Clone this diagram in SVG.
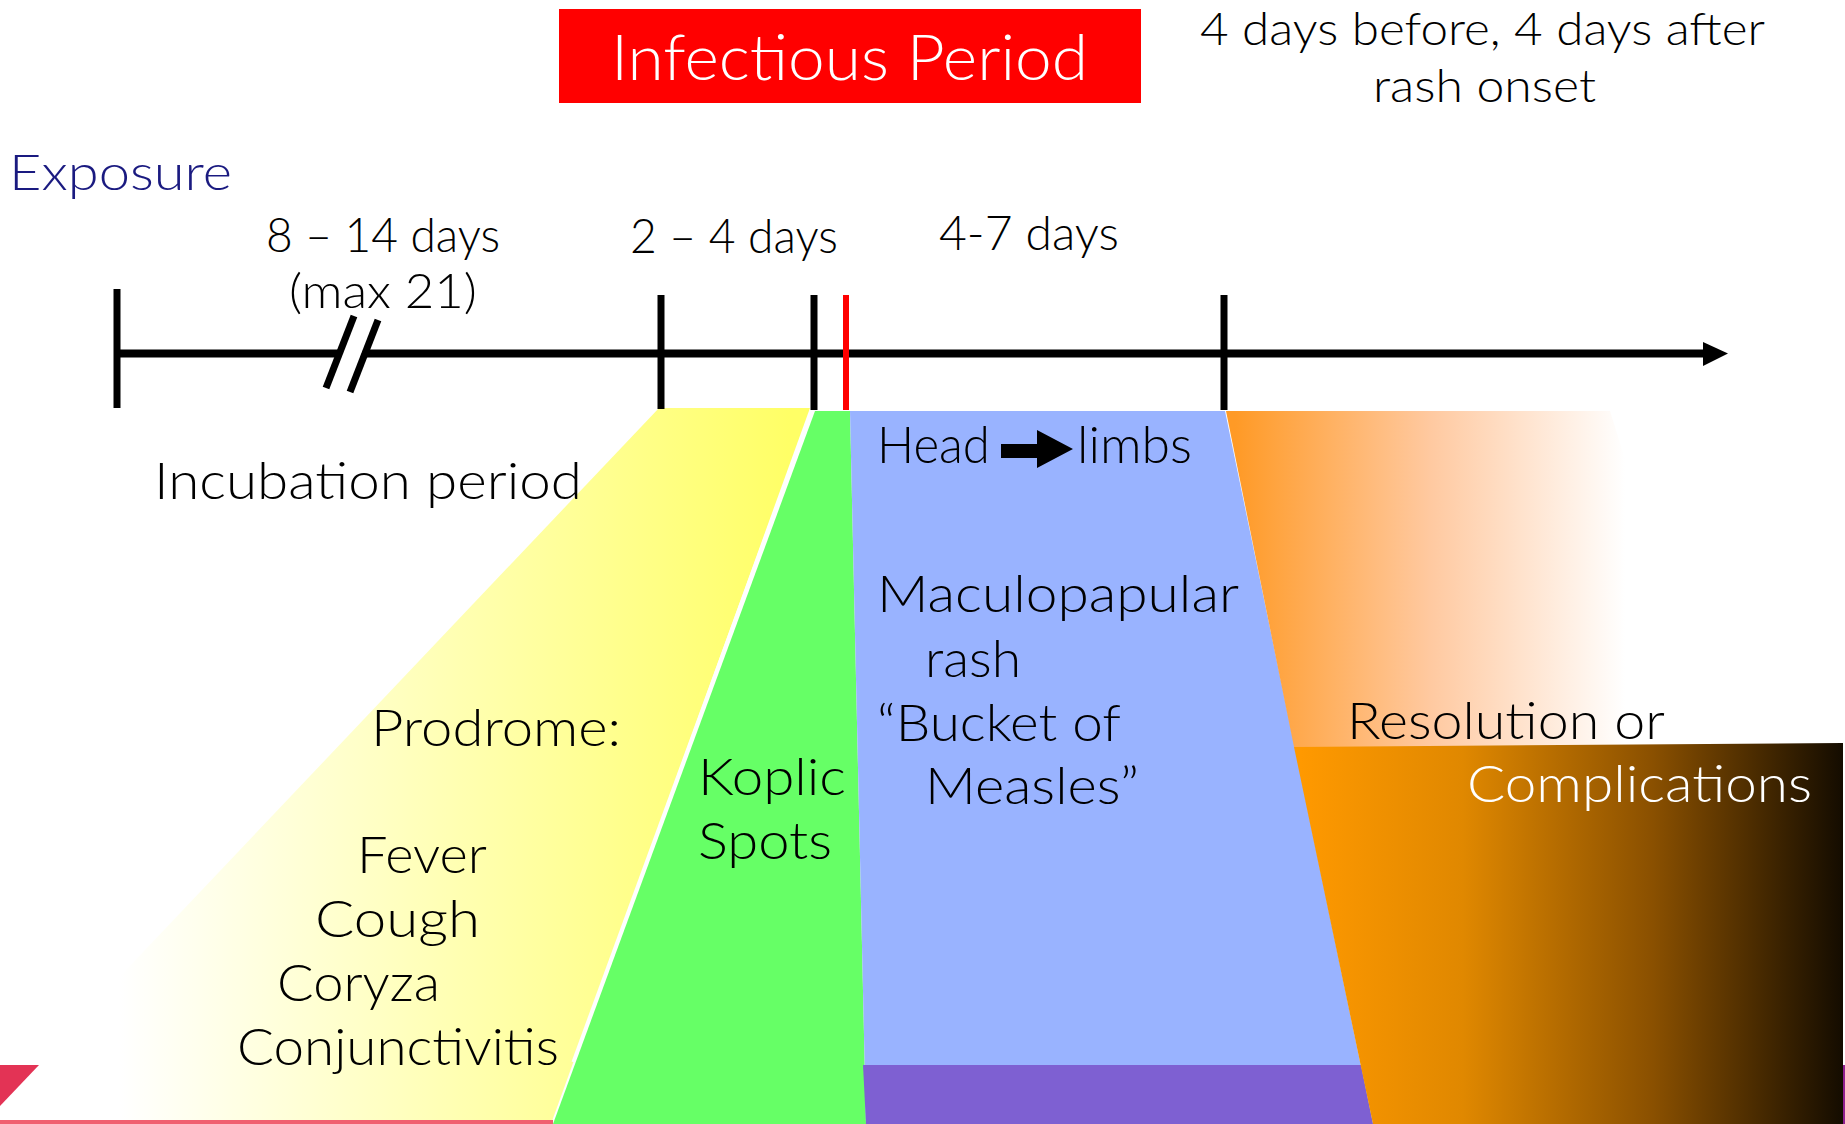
<svg xmlns="http://www.w3.org/2000/svg" width="1845" height="1124" viewBox="0 0 1845 1124">
<style>
text{font-family:Lato,"Open Sans","Liberation Sans",sans-serif;font-weight:300;}
.t{font-size:51px;fill:#000;}
.s{font-size:47px;fill:#000;}
.w{fill:#fff;}
.tick{stroke:#000;stroke-width:7;fill:none;}
</style>
<defs>
<linearGradient id="gY" gradientUnits="userSpaceOnUse" x1="120" y1="0" x2="790" y2="0">
<stop offset="0" stop-color="#ffffff"/>
<stop offset="1" stop-color="#ffff66"/>
</linearGradient>
<linearGradient id="gO1" gradientUnits="userSpaceOnUse" x1="1235" y1="0" x2="1625" y2="0">
<stop offset="0" stop-color="#ff9a26"/>
<stop offset="0.5" stop-color="#ffc9a0"/>
<stop offset="1" stop-color="#ffffff"/>
</linearGradient>
<linearGradient id="gO2" gradientUnits="userSpaceOnUse" x1="1300" y1="0" x2="1843" y2="0">
<stop offset="0" stop-color="#ff9900"/>
<stop offset="0.3" stop-color="#e08800"/>
<stop offset="0.65" stop-color="#8a5000"/>
<stop offset="1" stop-color="#140c00"/>
</linearGradient>
</defs>

<g id="infectious-period">
<rect x="559" y="9" width="582" height="94" fill="#ff0000"/>
<text x="611" y="80" class="w" font-size="64" textLength="477" lengthAdjust="spacingAndGlyphs">Infectious Period</text>
</g>
<g id="infectious-note">
<text x="1200" y="45" font-size="46" textLength="565" lengthAdjust="spacingAndGlyphs">4 days before, 4 days after</text>
<text x="1373" y="102" font-size="46" textLength="223" lengthAdjust="spacingAndGlyphs">rash onset</text>
</g>
<g id="exposure">
<text x="9" y="190" font-size="50" fill="#1a1a80" textLength="223" lengthAdjust="spacingAndGlyphs">Exposure</text>
</g>
<g id="duration-labels">
<text x="266" y="252" class="s" textLength="234" lengthAdjust="spacingAndGlyphs">8 – 14 days</text>
<text x="289" y="308" class="s" textLength="188" lengthAdjust="spacingAndGlyphs">(max 21)</text>
<text x="630" y="253" class="s" textLength="208" lengthAdjust="spacingAndGlyphs">2 – 4 days</text>
<text x="939" y="250" class="s" textLength="180" lengthAdjust="spacingAndGlyphs">4-7 days</text>
</g>

<g id="incubation">
<polygon points="659,408 810,408 551,1124 -20,1124" fill="url(#gY)"/>
<line x1="812" y1="410" x2="573" y2="1062" stroke="#ffffff" stroke-width="3"/>
<text x="154" y="499" class="t" textLength="428" lengthAdjust="spacingAndGlyphs">Incubation period</text>
<text x="371" y="746" class="t" textLength="250" lengthAdjust="spacingAndGlyphs">Prodrome:</text>
<text x="357" y="873" class="t" textLength="130" lengthAdjust="spacingAndGlyphs">Fever</text>
<text x="315" y="937" class="t" textLength="165" lengthAdjust="spacingAndGlyphs">Cough</text>
<text x="277" y="1001" class="t" textLength="163" lengthAdjust="spacingAndGlyphs">Coryza</text>
<text x="237" y="1065" class="t" textLength="322" lengthAdjust="spacingAndGlyphs">Conjunctivitis</text>
</g>

<g id="bottom-strip">
<rect x="0" y="1120" width="553" height="4" fill="#f06070"/>
<polygon points="0,1065 39,1065 0,1106" fill="#e33355"/>
</g>

<g id="koplic">
<polygon points="815,411 850,411 866,1124 553,1124" fill="#66ff66"/>
<text x="698" y="795" class="t" textLength="148" lengthAdjust="spacingAndGlyphs">Koplic</text>
<text x="698" y="859" class="t" textLength="134" lengthAdjust="spacingAndGlyphs">Spots</text>
</g>

<g id="rash">
<polygon points="850,411 1225,411 1373,1124 866,1124" fill="#99b3ff"/>
<polygon points="863,1065 1361,1065 1373,1124 866,1124" fill="#7e60d2"/>
<text x="877" y="463" class="t" textLength="113" lengthAdjust="spacingAndGlyphs">Head</text>
<polygon points="1001,444 1037,444 1037,430 1073,449 1037,468 1037,458 1001,458" fill="#000"/>
<text x="1077" y="463" class="t" textLength="115" lengthAdjust="spacingAndGlyphs">limbs</text>
<text x="877" y="612" class="t" textLength="362" lengthAdjust="spacingAndGlyphs">Maculopapular</text>
<text x="925" y="677" class="t" textLength="96" lengthAdjust="spacingAndGlyphs">rash</text>
<text x="877" y="741" class="t" textLength="244" lengthAdjust="spacingAndGlyphs">“Bucket of</text>
<text x="925" y="804" class="t" textLength="214" lengthAdjust="spacingAndGlyphs">Measles”</text>
</g>

<g id="outcome">
<polygon points="1226,411 1610,411 1715,747 1294,747" fill="url(#gO1)"/>
<polygon points="1294,747 1843,743 1843,1124 1373,1124" fill="url(#gO2)"/>
<rect x="1843" y="1065" width="2" height="59" fill="#902090"/>
<text x="1347" y="739" class="t" textLength="318" lengthAdjust="spacingAndGlyphs">Resolution or</text>
<text x="1467" y="802" class="t w" textLength="345" lengthAdjust="spacingAndGlyphs">Complications</text>
</g>

<g id="connectors">
<rect x="117" y="349.5" width="1591" height="8" fill="#000"/>
<polygon points="1703,342 1728,353.5 1703,366" fill="#000"/>
<line class="tick" x1="117" y1="289" x2="117" y2="408"/>
<line class="tick" x1="661" y1="295" x2="661" y2="409"/>
<line class="tick" x1="814" y1="295" x2="814" y2="410"/>
<line x1="846" y1="295" x2="846" y2="410" stroke="#ff0000" stroke-width="6"/>
<line class="tick" x1="1224" y1="295" x2="1224" y2="410"/>
<polygon points="355,317 375,320 347,391 327,388" fill="#fff"/>
<line class="tick" x1="354" y1="316" x2="326" y2="388"/>
<line class="tick" x1="378" y1="320" x2="350" y2="392"/>
</g>
</svg>
